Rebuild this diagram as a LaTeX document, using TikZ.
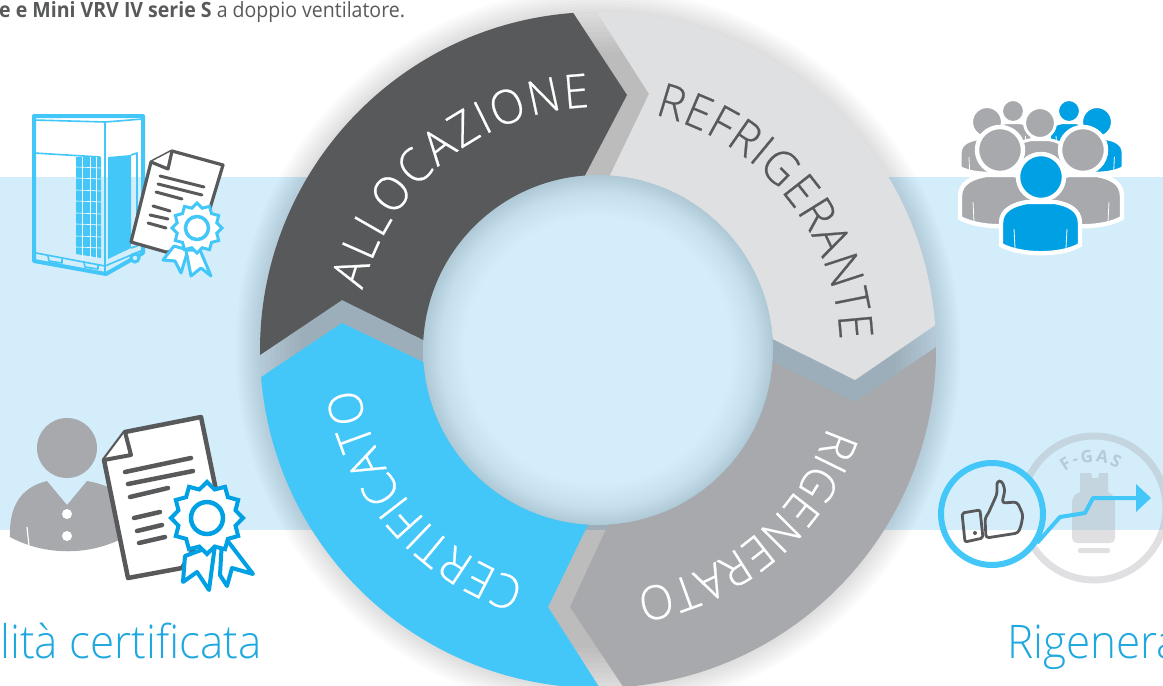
\documentclass[tikz,border=0pt]{standalone}
\usepackage{fontspec}
\setmainfont{Open Sans}
\newfontfamily\ringfont[FakeStretch=.95,FakeBold=.5]{Open Sans Light}
\newfontfamily\labelfont[FakeStretch=.95]{Open Sans Light}
\newfontfamily\topfont[FakeStretch=.93]{Open Sans}
\usetikzlibrary{decorations.text,shapes.geometric,arrows.meta}
\definecolor{bandblue}{HTML}{D4EDFB}
\definecolor{edgeblue}{HTML}{AEC8D5}
\definecolor{midblue}{HTML}{C6DFEC}
\definecolor{alloccol}{HTML}{58595B}
\definecolor{refrcol}{HTML}{DFE0E2}
\definecolor{rigencol}{HTML}{A7A9AC}
\definecolor{certcol}{HTML}{43C7F8}
\definecolor{deepblue}{HTML}{00A0E4}
\definecolor{titleblue}{HTML}{1FA8E0}
\definecolor{gascol}{HTML}{B4CCDA}
\pgfdeclareradialshading{innershade}{\pgfpointorigin}{color(0bp)=(bandblue); color(19bp)=(bandblue); color(22.5bp)=(midblue); color(25bp)=(edgeblue); color(50bp)=(edgeblue)}
\newcommand{\ringtext}{\ringfont\fontsize{47}{50}\selectfont}
\newcommand{\crowdperson}[4]{%
  \begin{scope}[shift={(#1,#2)},scale=#3]
    \draw[fill=#4,draw=white,line width=#3*4.4pt] (-40,68) -- (-40,46) .. controls (-40,32) and (-26,27) .. (-14,25) -- (14,25) .. controls (26,27) and (39,32) .. (39,46) -- (39,68) .. controls (20,79) and (-20,79) .. (-40,68) -- cycle;
    \draw[white,line width=.8pt] (-27,52) -- (-26,71) (26,52) -- (25,71);
    \draw[fill=#4,draw=white,line width=#3*4.4pt] (0,0) circle[radius=23];
  \end{scope}}
\begin{document}
\begin{tikzpicture}
        [x=1pt, y=-1pt,
        docsheet/.style={draw=alloccol,fill=white,line join=round},
        docline/.style={draw=alloccol,line cap=round},
        ribbon/.style={fill=white,line join=round},
        seal/.style={star,star points=12,star point ratio=1.22,fill=white,inner sep=0pt},
        unitline/.style={draw=certcol,line width=1.6pt,line join=round},
        bigtitle/.style={text=titleblue,font=\labelfont\fontsize{46.3}{50}\selectfont,inner sep=0pt},
        flow/.style={draw=certcol,line width=4pt,line join=round}]
        \useasboundingbox (0,0) rectangle (1163,686);
        \clip (0,0) rectangle (1163,686);
        \fill[white] (0,0) rectangle (1163,686);
        \fill[bandblue] (0,177) rectangle (1163,530);
        % soft shadow of the ring
        \coordinate (c) at (598,350);
        \foreach \r in {362,359,...,338}
          \fill[black,opacity=.014] (c) circle[radius=\r];
        \foreach \r in {333,328,...,298}
          \fill[black,opacity=.014] (c) circle[radius=\r];
        \shade[shading=innershade] (c) circle[radius=175];
        % ring segments
        \begin{scope}[shift={(598,350)}]
          \fill[alloccol] (179.15:338) arc[start angle=179.15,end angle=265.8,radius=338] -- (29,-255) -- (265.7:175) arc[start angle=265.7,end angle=183.3,radius=175] -- (-256,-50) -- cycle;
          \fill[refrcol] (269.8:338) arc[start angle=269.8,end angle=355.8,radius=338] -- (257,30) -- (356.4:175) arc[start angle=356.4,end angle=273.9,radius=175] -- (51,-256) -- cycle;
          \fill[rigencol] (-.5:338) arc[start angle=-.5,end angle=85.7,radius=338] -- (-28,257) -- (86.7:175) arc[start angle=86.7,end angle=3.9,radius=175] -- (257,52) -- cycle;
          \fill[certcol] (89.7:338) arc[start angle=89.7,end angle=175.4,radius=338] -- (-256,-27) -- (176:175) arc[start angle=176,end angle=93.3,radius=175] -- (-50,257) -- cycle;
          \path[decorate,decoration={text along path,text align={fit to path},text={|\color{white}\ringtext|ALLOCAZIONE}}] (194.3:243) arc[start angle=194.3,end angle=268,radius=243];
          \path[decorate,decoration={text along path,text align={fit to path},text={|\color{alloccol}\ringtext|REFRIGERANTE}}] (283.5:242) arc[start angle=283.5,end angle=357.6,radius=242];
          \path[decorate,decoration={text along path,text align={fit to path},text={|\color{white}\ringtext|RIGENERATO}}] (18.5:242) arc[start angle=18.5,end angle=81,radius=242];
          \path[decorate,decoration={text along path,text align={fit to path},text={|\color{white}\ringtext|CERTIFICATO}}] (107.5:242) arc[start angle=107.5,end angle=171,radius=242];
        \end{scope}
        % texts
        \node (toptext) at (-1,17) [anchor=base west,inner sep=0pt,text=alloccol,font=\topfont\fontsize{21}{24}\selectfont] {\textbf{e e Mini VRV IV serie S} a doppio ventilatore.};
        \node (certtitle) at (0,658) [anchor=base west,bigtitle] {lità certificata};
        \node (regentitle) at (1007,658) [anchor=base west,bigtitle] {Rigenera};
        % outdoor unit
        \draw[draw=certcol,line width=4pt,line join=round] (34,116) -- (143,116) -- (143,253) -- (106,274) -- (34,261) -- cycle;
        \draw[unitline] (34,120) -- (105,122) -- (143,119) (105,122) -- (105,274) (34,153) -- (100,157) (36,253) -- (105,266) -- (143,250);
        \draw[unitline] (48,256) -- (49,261) -- (62,263) -- (62,259) (84,262) -- (85,267) -- (98,269) -- (98,265);
        \fill[certcol] (76,157) -- (101,157) -- (101,258) -- (76,254) -- cycle;
        \foreach \gridy in {167,178,190,201,213,224,236,247}
          \draw[white,line width=.6pt] (76,\gridy) -- (101,\gridy+1);
        \foreach \gridx in {82,90,96}
          \draw[white,line width=.6pt] (\gridx,157) -- (\gridx,258);
        \fill[certcol] (108,157) -- (131,155) -- (131,248) -- (108,259) -- cycle;
        \draw[unitline] (131,155) -- (137,153) -- (137,246) -- (131,248);
        \draw[draw=certcol,line width=3pt,fill=bandblue] (135,258) circle[radius=4];
        % small certificate
        \filldraw[docsheet,line width=3.2pt] (151,162) -- (172,151) -- (223,165) -- (208,215) -- (190,250) -- (166,252) -- (131,242) -- cycle;
        \draw[docsheet,line width=3.2pt] (172,151) -- (168,169) -- (151,162);
        \draw[docline,line width=3pt] (160,176) -- (204,187) (158,184) -- (202,195) (156,192) -- (182,199) (153,206) -- (170,211) (150,215) -- (168,219) (148,223) -- (166,228);
        \filldraw[ribbon,draw=certcol,line width=3pt] (174,246) -- (163,260) -- (175,261) -- (181,273) -- (188,250) -- cycle;
        \filldraw[ribbon,draw=certcol,line width=3pt] (200,250) -- (211,276) -- (201,268) -- (191,276) -- (186,250) -- cycle;
        \node (smallseal) at (197,228) [seal,draw=certcol,line width=3pt,minimum size=50pt] {};
        \draw[draw=certcol,line width=3.5pt] (smallseal.center) circle[radius=11.5];
        % person with certificate
        \fill[rigencol] (67,448) circle[radius=30];
        \fill[rigencol] (10,537) .. controls (9,510) and (18,488) .. (47,481) -- (67,505) -- (87,481) .. controls (100,483) and (120,490) .. (125,500) -- (125,537) .. controls (90,556) and (45,556) .. (10,537) -- cycle;
        \draw[white,line width=1.2pt] (27,527) -- (29,546);
        \fill[white] (67,514) circle[radius=5] (67,536) circle[radius=5];
        \filldraw[docsheet,line width=4.5pt] (104,460) -- (125,432) -- (201,417) -- (216,490) -- (205,530) -- (182,568) -- (128,578) -- cycle;
        \draw[docsheet,line width=4pt] (125,432) -- (131,455) -- (104,460);
        \draw[docline,line width=4.5pt] (125,472) -- (191,458) (128,484) -- (193,471) (130,497) -- (168,488) (134,518) -- (160,512) (137,531) -- (162,525) (139,543) -- (165,537);
        \filldraw[ribbon,draw=deepblue,line width=4pt] (227,540) -- (253,574) -- (232,568) -- (227,586) -- (220,575) -- (222,540) -- cycle;
        \filldraw[ribbon,draw=deepblue,line width=4pt] (185,556) -- (183,582) -- (197,572) -- (209,590) -- (215,545) -- cycle;
        \node (bigseal) at (207,518) [seal,draw=deepblue,line width=4pt,minimum size=72pt] {};
        \draw[draw=deepblue,line width=4.5pt] (bigseal.center) circle[radius=16];
        % crowd
        \crowdperson{1013}{111}{.48}{rigencol}
        \crowdperson{1069}{111}{.48}{deepblue}
        \crowdperson{987}{122}{.67}{rigencol}
        \crowdperson{1097}{122}{.67}{deepblue}
        \crowdperson{1040}{123}{.67}{rigencol}
        \crowdperson{1000}{150}{1}{rigencol}
        \crowdperson{1083}{150}{1}{rigencol}
        \crowdperson{1041}{177}{1}{deepblue}
        % gas bottle
        \draw[rigencol,opacity=.35,line width=7pt] (1094,508) circle[radius=72];
        \fill[rigencol,opacity=.35] (1080,473) -- (1091,473) -- (1092,478) -- (1098,478) -- (1099,473) -- (1108,473) -- (1108,492) .. controls (1112,494) and (1115,497) .. (1115,503) -- (1115,538) .. controls (1115,541) and (1113,543) .. (1110,543) -- (1077,543) .. controls (1074,543) and (1072,541) .. (1072,538) -- (1072,503) .. controls (1072,497) and (1075,494) .. (1080,492) -- cycle;
        \fill[rigencol,opacity=.35,rounded corners=2pt] (1078,548) rectangle (1110,553);
        \begin{scope}[shift={(1093,508)}]
          \path[decorate,decoration={text along path,text align={fit to path},text={|\color{gascol}\bfseries\fontsize{17}{19}\selectfont|F-GAS}}] (232:46) arc[start angle=232,end angle=302,radius=46];
        \end{scope}
        % thumb in the circle
        \begin{scope}
          \clip (992,514) circle[radius=51];
          \fill[white] (930,530) rectangle (1050,570);
          \fill[bandblue] (930,450) rectangle (1050,530);
        \end{scope}
        \draw[draw=alloccol,line width=2.8pt,line join=round,rounded corners=2pt] (962,513) -- (980,510) -- (983,538) -- (965,542) -- cycle;
        \fill[alloccol] (975,533) circle[radius=2];
        \draw[draw=alloccol,line width=2.8pt,line join=round,rounded corners=3pt] (986,538) -- (985,518) -- (988,514) -- (997,494) -- (997,481) -- (1002,481) -- (1005,490) -- (1002,503) -- (1017,502) -- (1020,508) -- (1023,515) -- (1021,526) -- (1018,533) -- cycle;
        \draw[draw=certcol,line width=6pt] (992,514) circle[radius=51];
        \coordinate (flowstart) at (1037,543);
        \coordinate (flowa) at (1060,517);
        \coordinate (flowb) at (1085,513);
        \coordinate (flowc) at (1093,498);
        \coordinate (flowend) at (1151,498);
        \draw[flow,-{Triangle[length=15pt,width=27pt]}] (flowstart) -- (flowa) -- (flowb) -- (flowc) -- (flowend);
      \end{tikzpicture}
\end{document}
